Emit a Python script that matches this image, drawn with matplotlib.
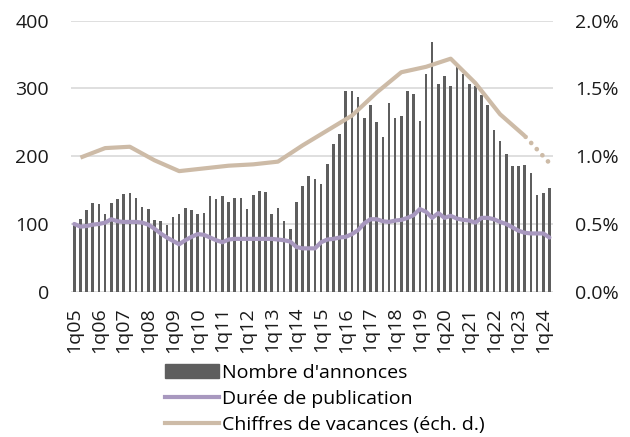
import matplotlib.pyplot as plt
import numpy as np

# Trimestres 1q05 .. 2q24
quarters = [f"{q}q{y:02d}" for y in range(5, 25) for q in range(1, 5)][:78]
tick_labels = [f"1q{y:02d}" for y in range(5, 25)]

# Nombre d'annonces (barres, éch. g.)
annonces = [
    101, 107, 120, 131, 129, 114, 131, 137, 144, 146,
    138, 125, 122, 106, 104, 98, 110, 114, 124, 121,
    114, 116, 141, 137, 141, 133, 139, 139, 122, 143,
    148, 147, 115, 124, 105, 92, 133, 156, 171, 167,
    159, 188, 218, 233, 297, 296, 287, 256, 275, 251,
    228, 278, 257, 260, 297, 292, 252, 321, 368, 307,
    319, 303, 332, 321, 307, 303, 290, 276, 238, 222,
    203, 186, 185, 187, 175, 143, 146, 153,
]

# Durée de publication (éch. g.)
duree = [
    100, 96, 97, 99, 100, 102, 107, 104, 103, 103,
    103, 102, 99, 93, 86, 80, 75, 70, 76, 81,
    85, 84, 80, 76, 73, 77, 78, 78, 78, 78,
    78, 78, 78, 77, 76, 74, 66, 64, 64, 64,
    73, 77, 78, 80, 81, 85, 91, 101, 107, 107,
    104, 103, 105, 106, 109, 113, 122, 118, 109, 116,
    109, 112, 108, 106, 105, 102, 109, 109, 107, 103,
    100, 95, 90, 87, 86, 86, 86, 80,
]

# Chiffres de vacances au 2e trimestre (éch. d., en %)
vac_quarters = [f"2q{y:02d}" for y in range(5, 24)]
vacances = [0.99, 1.06, 1.07, 0.97, 0.89, 0.91, 0.93, 0.94, 0.96, 1.08,
            1.19, 1.30, 1.47, 1.62, 1.66, 1.72, 1.54, 1.31, 1.15]
prev_quarters = ["2q23", "2q24"]
prevision = [1.15, 0.95]

BAR_COLOR = "#5e5e5e"
PURPLE = "#a898bf"
BEIGE = "#cdbba7"
GRID = "#d9d9d9"

plt.rcParams["font.family"] = ["Open Sans", "DejaVu Sans"]

pos = {q: i for i, q in enumerate(quarters)}
x = np.arange(len(quarters))

fig = plt.figure(figsize=(6.3, 4.37), dpi=100)
ax = fig.add_axes([0.113, 0.3325, 0.764, 0.62])
ax2 = ax.twinx()

ax.bar(x, annonces, width=0.42, color=BAR_COLOR, zorder=2)
ax.plot(x, duree, color=PURPLE, lw=3, solid_capstyle="round", zorder=3)

ax2.plot([pos[q] for q in vac_quarters], vacances, color=BEIGE, lw=3,
         solid_capstyle="butt")
ax2.plot([pos[q] for q in prev_quarters], prevision, color=BEIGE, lw=3.4,
         linestyle=(1.5, (0.01, 1.75)), dash_capstyle="round")

ax.set_xlim(-0.5, len(quarters) - 0.5)
ax.set_ylim(0, 400)
ax.set_yticks([0, 100, 200, 300, 400])
ax2.set_ylim(0, 2.0)
ax2.set_yticks([0, 0.5, 1.0, 1.5, 2.0])
ax2.set_yticklabels(["0.0%", "0.5%", "1.0%", "1.5%", "2.0%"])

ax.set_xticks([pos[t] for t in tick_labels])
ax.set_xticklabels(tick_labels, rotation=90)

ax.grid(axis="y", color=GRID, lw=1.2, zorder=0)
ax.set_axisbelow(True)
for a in (ax, ax2):
    for s in a.spines.values():
        s.set_visible(False)
ax.tick_params(axis="both", length=0, labelsize=14, colors="#1a1a1a")
ax.tick_params(axis="y", pad=16)
ax.tick_params(axis="x", pad=11)
ax2.tick_params(axis="y", length=0, labelsize=14, pad=16, colors="#1a1a1a")

handles = [
    plt.Rectangle((0, 0), 1, 1, color=BAR_COLOR),
    plt.Line2D([], [], color=PURPLE, lw=3),
    plt.Line2D([], [], color=BEIGE, lw=3),
]
labels = ["Nombre d'annonces", "Durée de publication", "Chiffres de vacances (éch. d.)"]
fig.legend(handles, labels, loc="upper left", bbox_to_anchor=(0.262, 0.167),
           frameon=False, fontsize=14, handlelength=2.75, handletextpad=0.2,
           labelspacing=0.4, borderaxespad=0, borderpad=0)

fig.savefig("out.png", dpi=100)
